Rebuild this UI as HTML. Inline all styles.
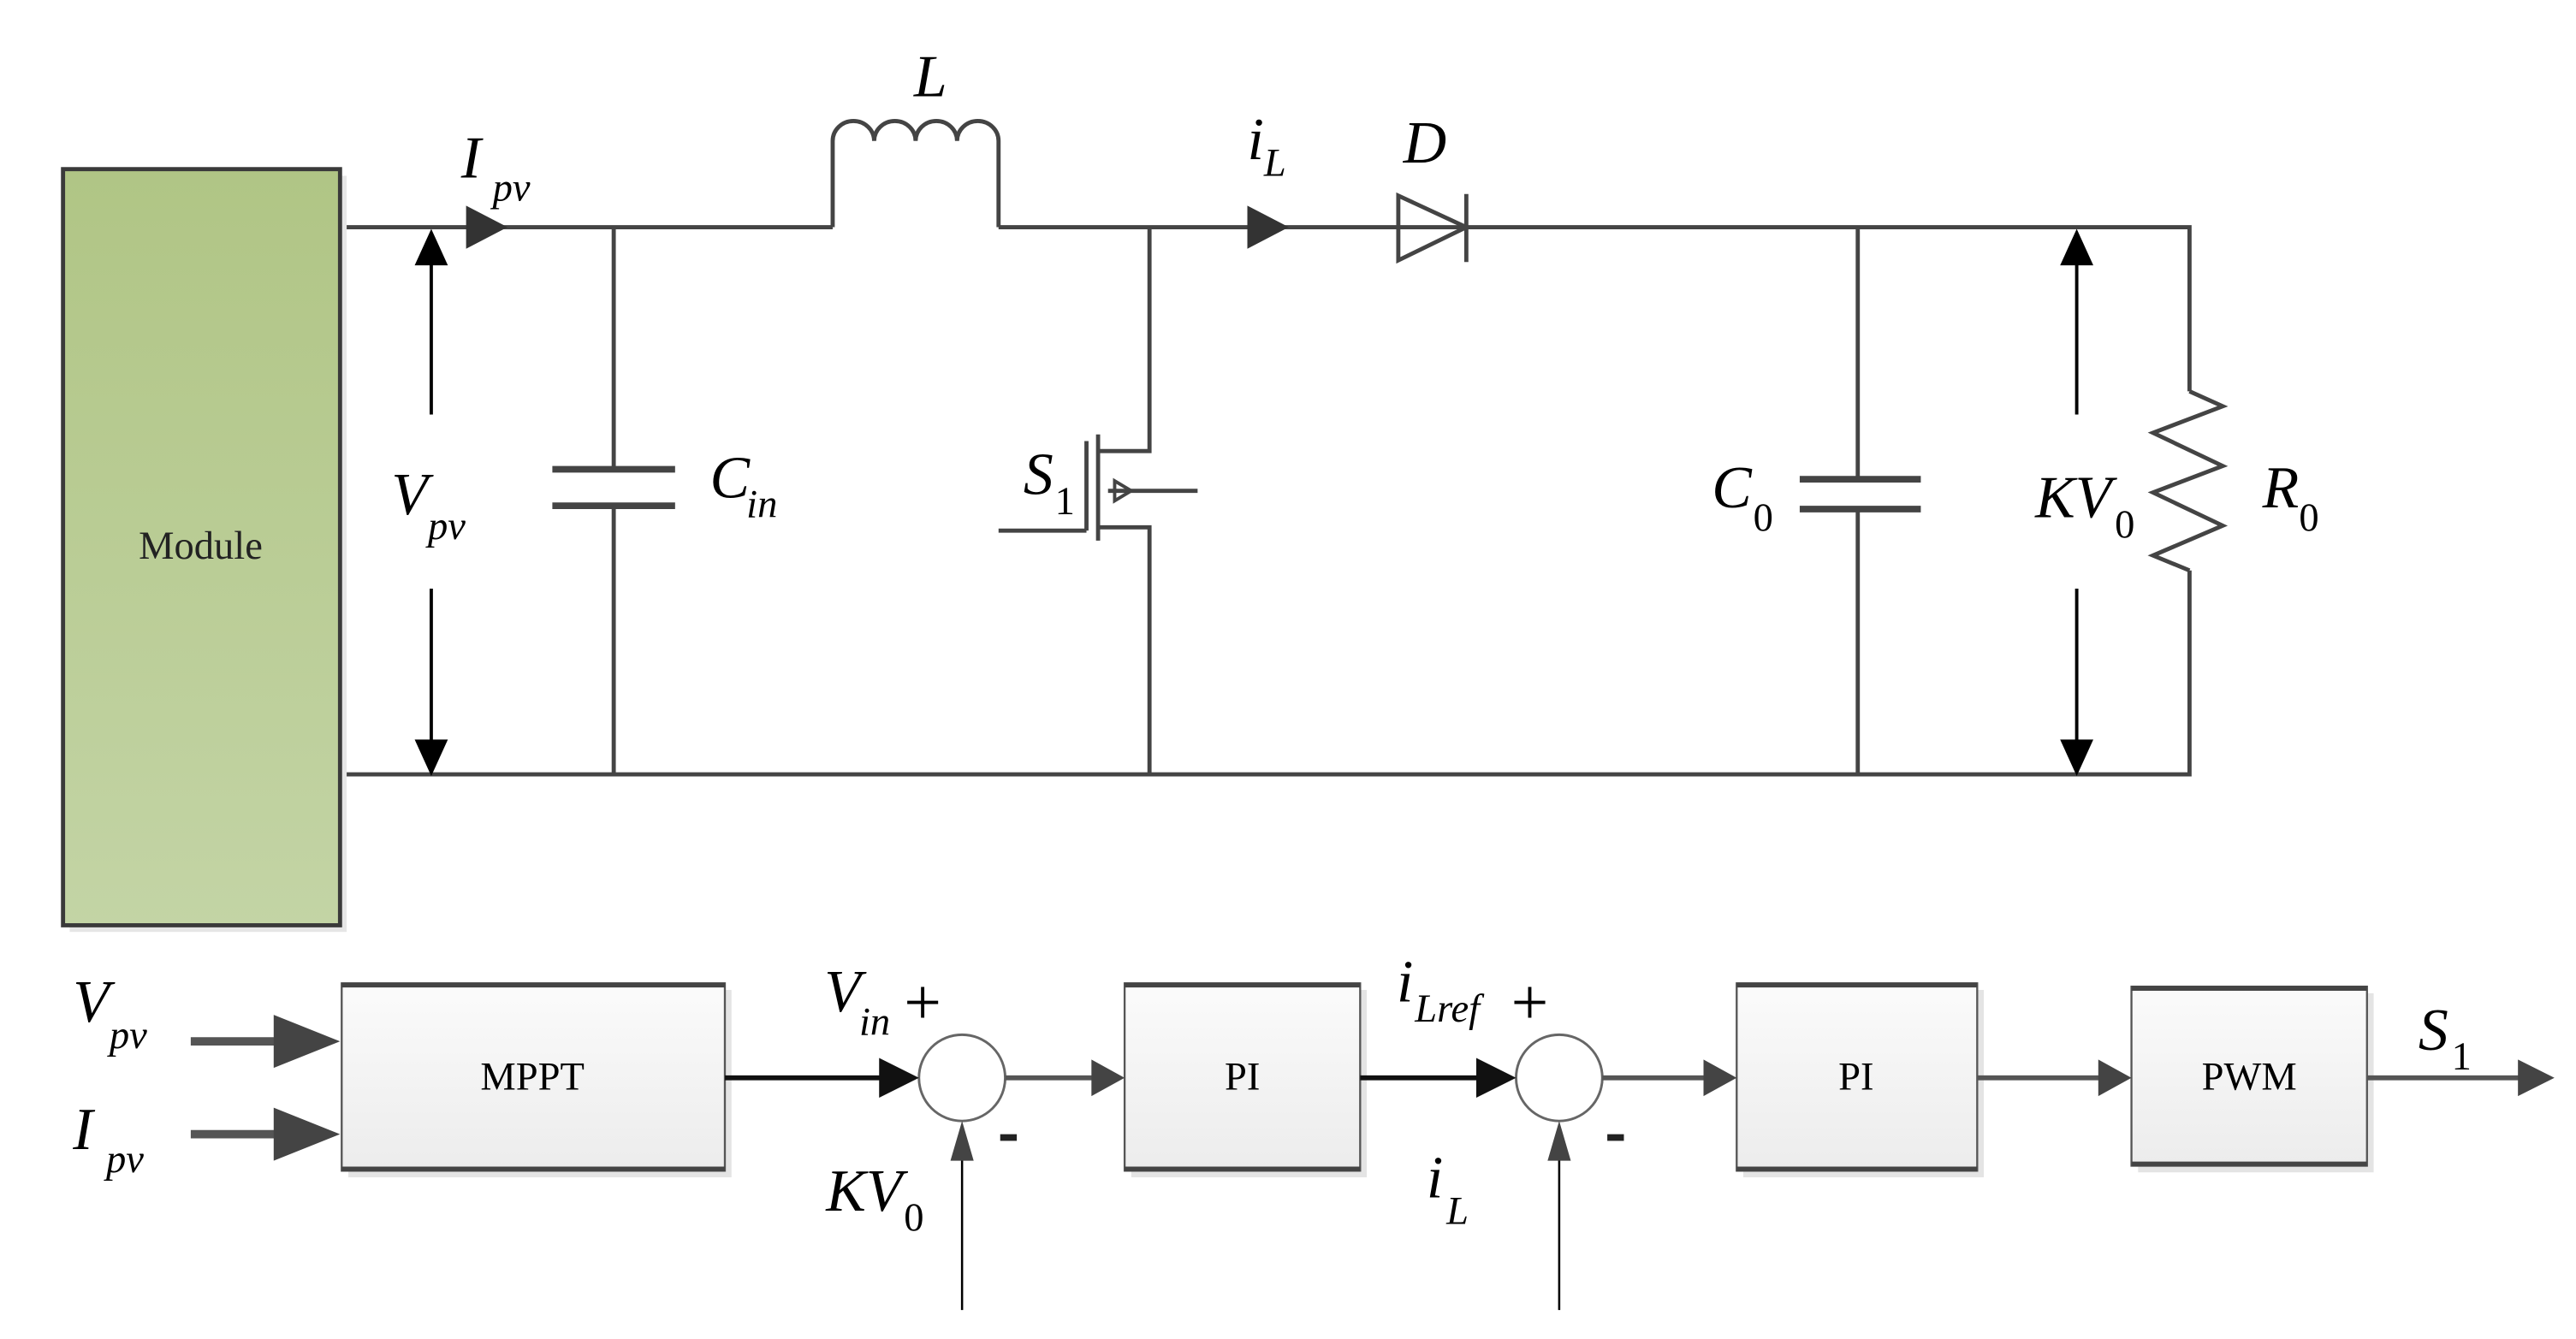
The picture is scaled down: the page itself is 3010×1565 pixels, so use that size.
<!DOCTYPE html>
<html><head><meta charset="utf-8"><style>
html,body{margin:0;padding:0;background:#fff}
svg{display:block}
text{font-family:"Liberation Serif",serif}
.m{font-style:italic;font-size:36px}
.s{font-style:italic;font-size:24px}
.n{font-size:24px}
.b{font-size:24px}
</style></head><body>
<svg width="3010" height="1565" viewBox="0 0 1553 807.5" preserveAspectRatio="none" xmlns="http://www.w3.org/2000/svg">
<defs>
<linearGradient id="g" x1="0" y1="0" x2="0" y2="1"><stop offset="0" stop-color="#b0c585"/><stop offset="1" stop-color="#c3d4a5"/></linearGradient>
<linearGradient id="bx" x1="0" y1="0" x2="0" y2="1"><stop offset="0" stop-color="#fbfbfb"/><stop offset="1" stop-color="#ececec"/></linearGradient>
</defs>
<g fill="none" stroke="#444" stroke-width="2.5">
<path d="M205 137 H502 M602 137 H1320 V236 M1320 344 V467 H205"/>
<path d="M502 137 V85 a12.5 12 0 0 1 25 0 a12.5 12 0 0 1 25 0 a12.5 12 0 0 1 25 0 a12.5 12 0 0 1 25 0 V137"/>
<path d="M1320 236 L1340 245 L1298 261 L1340 281 L1298 297 L1340 317 L1298 335 L1320 344"/>
<path d="M370 137 V283 M370 305 V467"/>
<path d="M333 283 H407 M333 305 H407" stroke-width="4"/>
<path d="M1120 137 V289 M1120 307 V467"/>
<path d="M1085 289 H1158 M1085 307 H1158" stroke-width="4"/>
<path d="M693 137 V272 H662 M662 262 V326 M655 266 V320 M602 320 H655 M662 318 H693 V467 M668 296 H722"/>
<path d="M672 290 L682 296 L672 302 Z" stroke-width="2"/>
<path d="M843 118 L884 137 L843 157 Z M884 117 V158"/>
</g>
<rect x="42" y="106" width="167" height="456" fill="#e6e6e6"/>
<rect x="38" y="102" width="167" height="456" fill="url(#g)" stroke="#3a3a3a" stroke-width="2.5"/>
<text x="121" y="337" class="b" text-anchor="middle" fill="#222">Module</text>
<path d="M281 124 L306 137 L281 150 Z" fill="#333"/>
<path d="M752 124 L777 137 L752 150 Z" fill="#333"/>
<g stroke="#000" stroke-width="2"><path d="M260 158 V250 M260 355 V448 M1252 158 V250 M1252 355 V448"/></g>
<g fill="#000"><path d="M250 160 L260 138 L270 160 Z M250 446 L260 468 L270 446 Z M1242 160 L1252 138 L1262 160 Z M1242 446 L1252 468 L1262 446 Z"/></g>
<text x="278" y="107" class="m">I</text><text x="297" y="121" class="s">pv</text>
<text x="551" y="58" class="m">L</text>
<text x="752" y="96" class="m">i</text><text x="762" y="106" class="s">L</text>
<text x="846" y="98" class="m">D</text>
<text x="236" y="310" class="m">V</text><text x="258" y="325" class="s">pv</text>
<text x="428" y="300" class="m">C</text><text x="450" y="312" class="s">in</text>
<text x="617" y="298" class="m">S</text><text x="636" y="310" class="n">1</text>
<text x="1032" y="306" class="m">C</text><text x="1057" y="320" class="n">0</text>
<text x="1227" y="312" class="m">KV</text><text x="1275" y="324" class="n">0</text>
<text x="1364" y="306" class="m">R</text><text x="1386" y="320" class="n">0</text>
<g>
<rect x="210" y="597" width="231" height="113" fill="#e4e4e4"/>
<rect x="206" y="593" width="231" height="113" fill="url(#bx)" stroke="#555" stroke-width="1.2"/>
<path d="M206 594 H437 M206 705 H437" stroke="#444" stroke-width="3"/>
<rect x="682" y="597" width="142" height="113" fill="#e4e4e4"/>
<rect x="678" y="593" width="142" height="113" fill="url(#bx)" stroke="#555" stroke-width="1.2"/>
<path d="M678 594 H820 M678 705 H820" stroke="#444" stroke-width="3"/>
<rect x="1051" y="597" width="145" height="113" fill="#e4e4e4"/>
<rect x="1047" y="593" width="145" height="113" fill="url(#bx)" stroke="#555" stroke-width="1.2"/>
<path d="M1047 594 H1192 M1047 705 H1192" stroke="#444" stroke-width="3"/>
<rect x="1289" y="599" width="142" height="108" fill="#e4e4e4"/>
<rect x="1285" y="595" width="142" height="108" fill="url(#bx)" stroke="#555" stroke-width="1.2"/>
<path d="M1285 596 H1427 M1285 702 H1427" stroke="#444" stroke-width="3"/>
</g>
<text x="321" y="657" class="b" text-anchor="middle">MPPT</text>
<text x="749" y="657" class="b" text-anchor="middle">PI</text>
<text x="1119" y="657" class="b" text-anchor="middle">PI</text>
<text x="1356" y="657" class="b" text-anchor="middle">PWM</text>
<circle cx="580" cy="650" r="26" fill="#fff" stroke="#666" stroke-width="1.5"/>
<circle cx="940" cy="650" r="26" fill="#fff" stroke="#666" stroke-width="1.5"/>
<g stroke-width="3" fill="none">
<path d="M115 628 H175 M115 684 H175" stroke="#555" stroke-width="5"/>
<path d="M437 650 H535 M820 650 H895" stroke="#111"/>
<path d="M606 650 H660 M966 650 H1028 M1192 650 H1267 M1427 650 H1520" stroke="#555"/>
</g>
<g stroke="#000" stroke-width="1.3"><path d="M580 790 V695 M940 790 V695"/></g>
<g fill="#444">
<path d="M165 612 L205 628 L165 644 Z M165 668 L205 684 L165 700 Z"/>
<path d="M530 638 L554 650 L530 662 Z M890 638 L914 650 L890 662 Z" fill="#111"/>
<path d="M658 639 L678 650 L658 661 Z M1027 639 L1047 650 L1027 661 Z M1265 639 L1285 650 L1265 661 Z M1518 639 L1540 650 L1518 661 Z"/>
<path d="M573 700 L580 676 L587 700 Z M933 700 L940 676 L947 700 Z"/>
</g>
<text x="44" y="616" class="m">V</text><text x="66" y="632" class="s">pv</text>
<text x="44" y="693" class="m">I</text><text x="64" y="707" class="s">pv</text>
<text x="497" y="610" class="m">V</text><text x="518" y="624" class="s">in</text>
<text x="545" y="618" style="font-size:40px">+</text>
<text x="911" y="618" style="font-size:40px">+</text>
<rect x="603" y="684" width="10" height="4" fill="#222"/>
<rect x="969" y="684" width="10" height="4" fill="#222"/>
<text x="498" y="730" class="m">KV</text><text x="545" y="742" class="n">0</text>
<text x="842" y="604" class="m">i</text><text x="853" y="616" class="s">Lref</text>
<text x="860" y="722" class="m">i</text><text x="872" y="738" class="s">L</text>
<text x="1458" y="633" class="m">S</text><text x="1478" y="645" class="n">1</text>
</svg>
</body></html>
